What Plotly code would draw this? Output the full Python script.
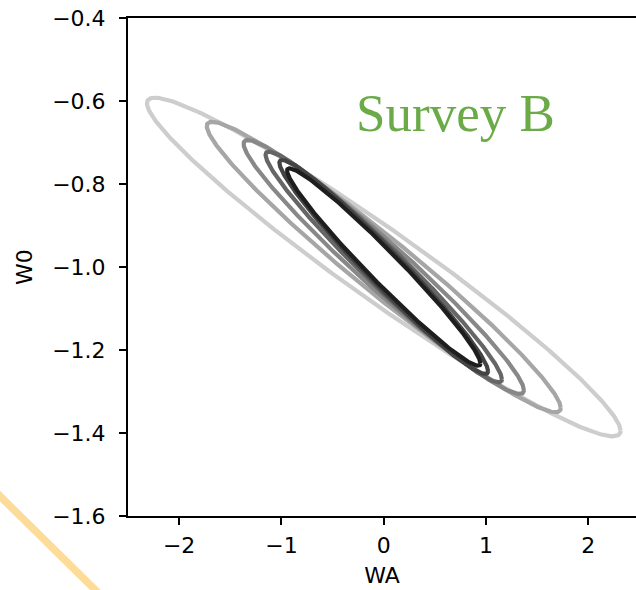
import numpy as np
import plotly.graph_objects as go

# Confidence ellipses (outer to inner)
center_wa = 0.0
center_w0 = -1.0
half_wa = [2.315, 1.73, 1.37, 1.155, 1.02, 0.945]
half_w0 = [0.408, 0.35, 0.306, 0.278, 0.258, 0.238]
rho = [-0.967, -0.97, -0.97, -0.972, -0.973, -0.975]
colors = ["#cdcdcd", "#a6a6a6", "#888888", "#666666", "#444444", "#1e1e1e"]

x_tickvals = [-2, -1, 0, 1, 2]
x_ticktext = ["\u22122", "\u22121", "0", "1", "2"]
y_tickvals = [-1.6, -1.4, -1.2, -1.0, -0.8, -0.6, -0.4]
y_ticktext = ["\u22121.6", "\u22121.4", "\u22121.2", "\u22121.0", "\u22120.8", "\u22120.6", "\u22120.4"]

label_text = "Survey B"
label_pos = (0.70, -0.63)

fig = go.Figure()
t = np.linspace(0, 2 * np.pi, 500)
for ax_, ay_, r_, c_ in zip(half_wa, half_w0, rho, colors):
    xs = center_wa + ax_ * np.cos(t)
    ys = center_w0 + ay_ * (r_ * np.cos(t) + np.sqrt(1 - r_ ** 2) * np.sin(t))
    fig.add_trace(go.Scatter(x=xs, y=ys, mode="lines",
                             line=dict(color=c_, width=4.2),
                             showlegend=False, hoverinfo="skip"))

fig.add_annotation(x=label_pos[0], y=label_pos[1], text=label_text, showarrow=False,
                   xanchor="center", yanchor="middle",
                   font=dict(family="Liberation Serif", size=53, color="#6aab48"))

# decorative diagonal stroke outside the axes (bottom-left)
fig.add_shape(type="line", xref="paper", yref="paper",
              x0=-0.262, y0=0.050, x1=-0.050, y1=-0.163,
              line=dict(color="#fddc9a", width=7.5), layer="above")

axis_font = dict(family="DejaVu Sans", size=22, color="#000000")
fig.update_xaxes(range=[-2.5, 2.466], tickvals=x_tickvals, ticktext=x_ticktext,
                 showgrid=False, zeroline=False, showline=True, linecolor="#000000",
                 linewidth=2, mirror=True, ticks="outside", ticklen=7, tickwidth=1.6,
                 tickcolor="#000000", tickfont=axis_font, ticklabelstandoff=2,
                 title=dict(text="WA", font=axis_font, standoff=10))
fig.update_yaxes(range=[-1.6, -0.4], tickvals=y_tickvals, ticktext=y_ticktext,
                 showgrid=False, zeroline=False, showline=True, linecolor="#000000",
                 linewidth=2, ticks="outside", ticklen=7, tickwidth=1.6,
                 tickcolor="#000000", tickfont=axis_font, ticklabelstandoff=9,
                 title=dict(text="W0", font=axis_font, standoff=13))
fig.update_layout(width=636, height=590, margin=dict(l=128, r=0, t=18, b=74),
                  plot_bgcolor="white", paper_bgcolor="white", showlegend=False)

fig.write_html("out.html", config={"displayModeBar": False},
               post_script="document.body.style.margin='0px';")
